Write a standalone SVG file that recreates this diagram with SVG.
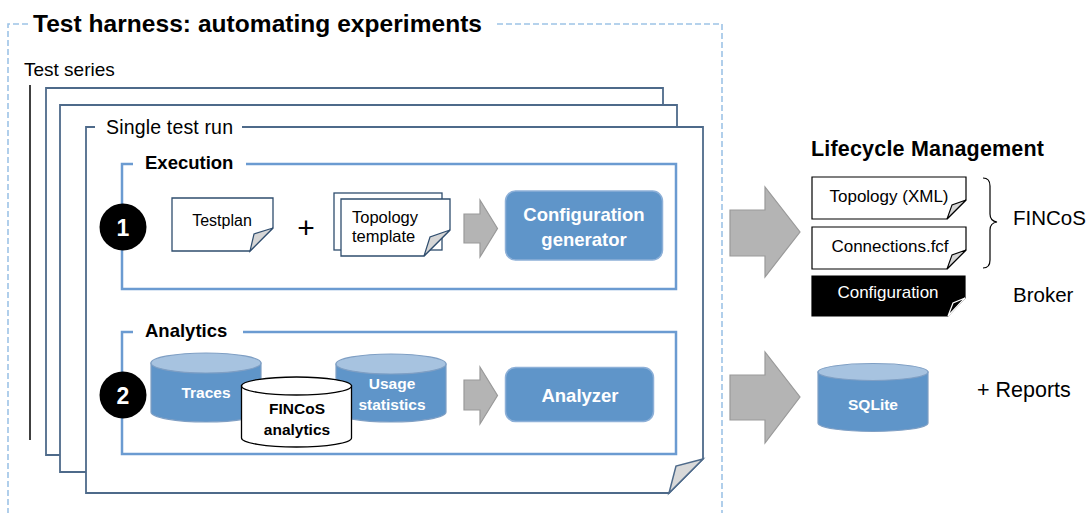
<svg xmlns="http://www.w3.org/2000/svg" width="1088" height="513" viewBox="0 0 1088 513">
<defs>
<style>
text{font-family:"Liberation Sans",Arial,sans-serif;fill:#000}
.b{font-weight:bold}
.w{fill:#fff}
.mid{text-anchor:middle}
.page{fill:none;stroke:#4e6a8a;stroke-width:1.8}
.grp{fill:none;stroke:#6b9bd1;stroke-width:2.5}
.doc{fill:#fff;stroke:#2f4d6e;stroke-width:1.3}
.docr{fill:#fff;stroke:#000;stroke-width:1.2}
.fold{fill:#d6d6d6;stroke:#2f4d6e;stroke-width:1.2}
.foldr{fill:#d6d6d6;stroke:#000;stroke-width:1.1}
.proc{fill:#5f95c9;stroke:#8db0d8;stroke-width:1.5}
.cylb{fill:#5f95c9;stroke:#7f9fc4;stroke-width:1.2}
.cylt{fill:#a7c3e0;stroke:#7f9fc4;stroke-width:1.2}
.cylw{fill:#fff;stroke:#000;stroke-width:1.3}
.arr{fill:#b4b4b4;stroke:#999;stroke-width:1.2}
.num{fill:#000}
</style>
</defs>
<rect width="1088" height="513" fill="#fff"/>

<g id="test-harness">
<path d="M28,24 H8 V520 M497,24 H722 V520" fill="none" stroke="#9dc3e6" stroke-width="1.6" stroke-dasharray="6 3"/>
<text x="33" y="32" class="b" font-size="24.5" textLength="449">Test harness: automating experiments</text>
</g>

<g id="test-series">
<text x="24" y="76" font-size="19">Test series</text>
<line x1="30" y1="85" x2="30" y2="440" stroke="#000" stroke-width="1.5"/>
<path class="page" d="M60,455 H46 V88 H663 V105"/>
<path class="page" d="M86,472 H60 V105 H677 V127"/>
</g>

<g id="single-test-run">
<path class="page" d="M95,127 H86 V493 H669 L703,459 V127 H242"/>
<path d="M703,459 L676,466 L669,493 Z" fill="#d9d9d9" stroke="#4e6a8a" stroke-width="1.5"/>
<text x="106" y="134" font-size="19.5" textLength="127">Single test run</text>
</g>

<g id="execution">
<path class="grp" d="M133,164 H122 V289 H676 V164 H246"/>
<text x="145" y="169" class="b" font-size="18.5">Execution</text>
</g>

<g id="step1">
<circle cx="123" cy="227" r="23.5" class="num"/>
<text x="123" y="235.5" class="b w mid" font-size="23">1</text>
</g>

<g id="testplan">
<path class="doc" d="M172,198 H273 V228 L250,251 H172 Z"/>
<path class="fold" d="M273,228 L254,234 L250,251 Z"/>
<text x="222" y="226" class="mid" font-size="16">Testplan</text>
</g>

<g id="plus">
<text x="306" y="237.5" class="mid" font-size="30">+</text>
</g>

<g id="topology-template">
<rect class="doc" x="334" y="193" width="108" height="57"/>
<path class="doc" d="M341,199 H450 V230 L424,256 H341 Z"/>
<path class="fold" d="M450,230 L430,237 L424,256 Z"/>
<text x="352" y="223" font-size="16.5">Topology</text>
<text x="352" y="242" font-size="16.5">template</text>
</g>

<g id="configuration-generator">
<rect class="proc" x="505.5" y="191" width="157" height="69" rx="10"/>
<text x="584" y="221" class="b w mid" font-size="18.5">Configuration</text>
<text x="584" y="246" class="b w mid" font-size="18.5">generator</text>
</g>

<g id="analytics">
<path class="grp" d="M133,332 H122 V454 H676 V332 H243"/>
<text x="145" y="337" class="b" font-size="18.5">Analytics</text>
</g>

<g id="step2">
<circle cx="123" cy="395" r="23.5" class="num"/>
<text x="123" y="403.5" class="b w mid" font-size="23">2</text>
</g>

<g id="traces">
<path class="cylb" d="M151,363 V412 A55,10 0 0 0 261,412 V363 Z"/>
<ellipse class="cylt" cx="206" cy="363" rx="55" ry="10"/>
<text x="206" y="398" class="b w mid" font-size="15.5">Traces</text>
</g>

<g id="usage-statistics">
<path class="cylb" d="M336,364 V412 A55,10 0 0 0 446,412 V364 Z"/>
<ellipse class="cylt" cx="391" cy="364" rx="55" ry="10"/>
<text x="392" y="389" class="b w mid" font-size="15.5">Usage</text>
<text x="392" y="410" class="b w mid" font-size="15.5">statistics</text>
</g>

<g id="fincos-analytics">
<path class="cylw" d="M241.5,386 V438 A55,9 0 0 0 351.5,438 V386 Z"/>
<ellipse class="cylw" cx="296.5" cy="386" rx="55" ry="9"/>
<text x="297" y="414" class="b mid" font-size="15.5">FINCoS</text>
<text x="297" y="435" class="b mid" font-size="15.5">analytics</text>
</g>

<g id="analyzer">
<rect class="proc" x="505.5" y="367.5" width="148" height="54" rx="10"/>
<text x="580" y="401.5" class="b w mid" font-size="18.5">Analyzer</text>
</g>

<g id="lifecycle-management">
<text x="811" y="156" class="b" font-size="21.5" textLength="233">Lifecycle Management</text>
</g>

<g id="topology-xml">
<path class="docr" d="M812,177 H966 V200 L947,219 H812 Z"/>
<path class="foldr" d="M966,200 L952,205 L947,219 Z"/>
<text x="889" y="202" class="mid" font-size="17">Topology (XML)</text>
</g>

<g id="connections-fcf">
<path class="docr" d="M812,227 H966 V250 L947,269 H812 Z"/>
<path class="foldr" d="M966,250 L952,255 L947,269 Z"/>
<text x="890" y="252" class="mid" font-size="17">Connections.fcf</text>
</g>

<g id="fincos">
<path d="M983,178 Q990,178 990,186 V214 Q990,221 997,222 Q990,223 990,230 V260 Q990,268 983,268" fill="none" stroke="#000" stroke-width="1.2"/>
<text x="1013" y="225" font-size="20.5">FINCoS</text>
</g>

<g id="broker-configuration">
<path d="M812,276 H965 V298 L948,316 H812 Z" fill="#000" stroke="#000" stroke-width="1.2"/>
<path d="M965,298 L953,303 L948,316 Z" fill="#000" stroke="#fff" stroke-width="1.2"/>
<text x="888" y="298" class="w mid" font-size="17">Configuration</text>
</g>

<g id="broker">
<text x="1013" y="302" font-size="20.5">Broker</text>
</g>

<g id="sqlite">
<path class="cylb" d="M818,372 V423 A55,8.5 0 0 0 928,423 V372 Z"/>
<ellipse class="cylt" cx="873" cy="372" rx="55" ry="8.5"/>
<text x="873" y="410" class="b w mid" font-size="15.5">SQLite</text>
</g>

<g id="reports">
<text x="977" y="397" font-size="21.5">+ Reports</text>
</g>

<g id="connectors">
<polygon class="arr" points="464,214 480,214 480,200 497.5,228.5 480,257 480,243 464,243"/>
<polygon class="arr" points="464,380 480,380 480,367 497.5,395.5 480,424 480,410 464,410"/>
<polygon class="arr" points="730,210 765,210 765,187 800,232 765,277 765,256 730,256"/>
<polygon class="arr" points="730,375 765,375 765,352 800,397 765,443 765,420 730,420"/>
</g>
</svg>
